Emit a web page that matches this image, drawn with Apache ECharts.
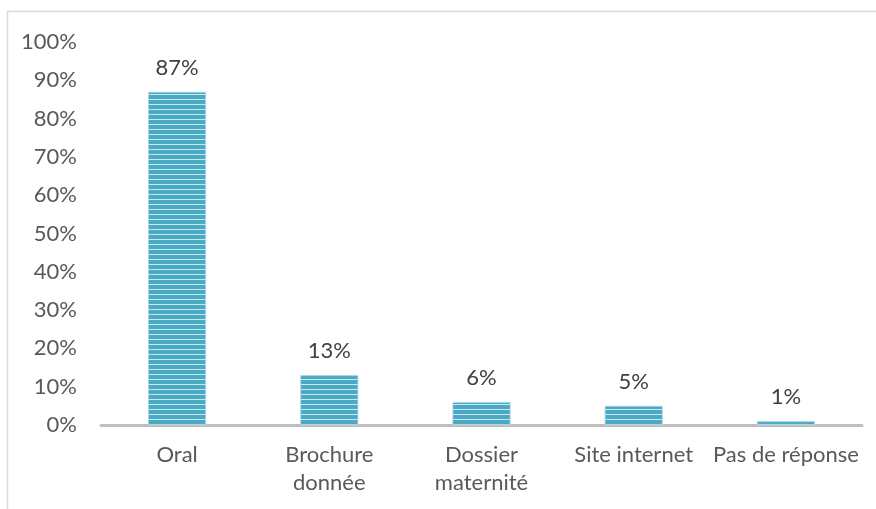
<!DOCTYPE html>
<html>
<head>
<meta charset="utf-8">
<script src="https://cdn.jsdelivr.net/npm/echarts@6/dist/echarts.min.js"></script>
<style>
  html, body { margin: 0; padding: 0; background: #ffffff; }
  #chart { width: 876px; height: 509px; }
</style>
</head>
<body>
<div id="chart"></div>
<script>
// Source of the information received (share of respondents, %)
const categories = ['Oral', 'Brochure\ndonnée', 'Dossier\nmaternité', 'Site internet', 'Pas de réponse'];
const shares = [87, 13, 6, 5, 1];
const yTicks = { min: 0, max: 100, step: 10 };

// Horizontal stripe fill for the bars
function stripePattern() {
  const c = document.createElement('canvas');
  c.width = 4;
  c.height = 5;
  const ctx = c.getContext('2d');
  ctx.fillStyle = '#4aaac5';
  ctx.fillRect(0, 0, 4, 5);
  ctx.fillStyle = '#cbe7f0';
  ctx.fillRect(0, 4, 4, 1);
  return c;
}

const chart = echarts.init(document.getElementById('chart'), null, { renderer: 'canvas' });
const font = 'Lato, "DejaVu Sans", sans-serif';

chart.setOption({
  animation: false,
  backgroundColor: '#ffffff',
  graphic: [{
    type: 'rect',
    silent: true,
    shape: { x: 7.5, y: 11.5, width: 900, height: 600 },
    style: { fill: 'none', stroke: '#d9d9d9', lineWidth: 1.5 }
  }],
  grid: { left: 101, right: 14, top: 42, bottom: 84, containLabel: false },
  xAxis: {
    type: 'category',
    data: categories,
    axisTick: { show: false },
    axisLine: { lineStyle: { color: '#bfbfbf', width: 3 } },
    axisLabel: {
      color: '#595959',
      fontFamily: font,
      fontSize: 22,
      lineHeight: 28,
      margin: 16,
      interval: 0
    }
  },
  yAxis: {
    type: 'value',
    min: yTicks.min,
    max: yTicks.max,
    interval: yTicks.step,
    axisLine: { show: false },
    axisTick: { show: false },
    splitLine: { show: false },
    axisLabel: {
      color: '#595959',
      fontFamily: font,
      fontSize: 22,
      margin: 24,
      formatter: '{value}%'
    }
  },
  series: [{
    type: 'bar',
    data: shares,
    barWidth: 58,
    itemStyle: {
      color: { image: stripePattern(), repeat: 'repeat' },
      borderColor: '#a9d8e6',
      borderWidth: 0.8
    },
    label: {
      show: true,
      position: 'top',
      distance: 13,
      color: '#404040',
      fontFamily: font,
      fontSize: 22,
      formatter: '{c}%'
    }
  }]
});
</script>
</body>
</html>
